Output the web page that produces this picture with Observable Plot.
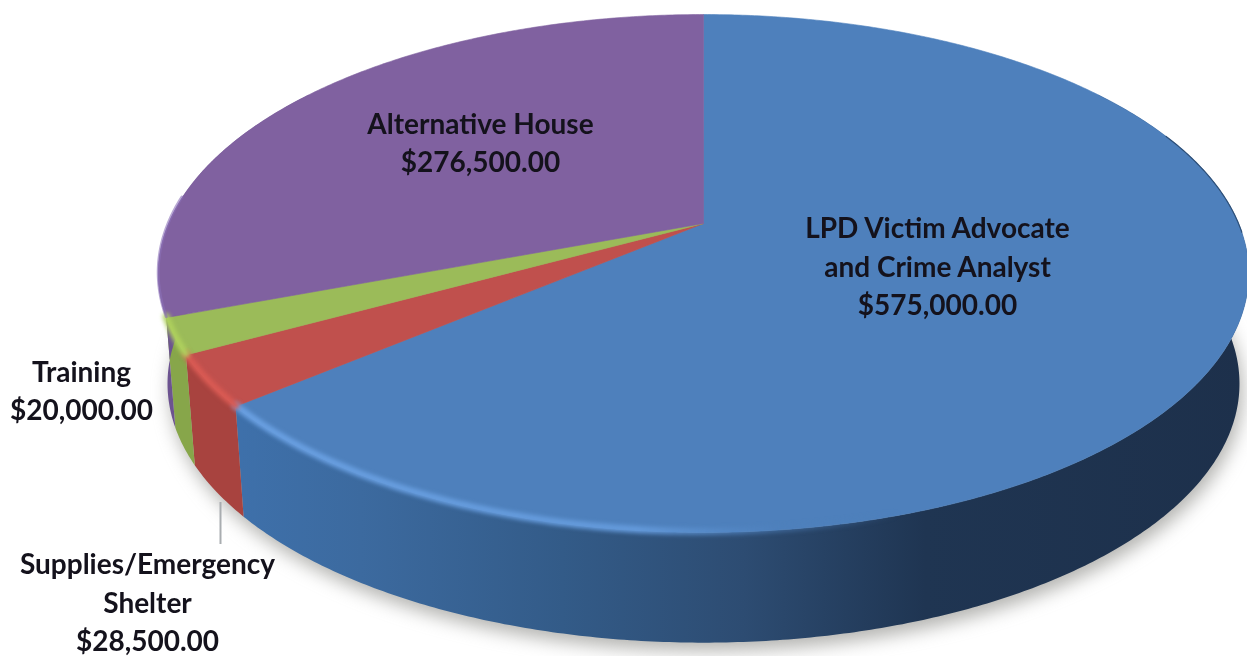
<!DOCTYPE html>
<html>
<head>
<meta charset="utf-8">
<script src="https://cdn.jsdelivr.net/npm/d3@7"></script>
<script src="https://cdn.jsdelivr.net/npm/@observablehq/plot@0.6"></script>
<style>
  html, body { margin: 0; padding: 0; background: #fff; }
  svg { display: block; }
</style>
</head>
<body>
<div id="chart"></div>
<script>
// ---- chart values, in drawing order clockwise from twelve o'clock
const categories = ["LPD Victim Advocate\nand Crime Analyst", "Supplies/Emergency\nShelter", "Training", "Alternative House"];
const amounts = [575000, 28500, 20000, 276500];

// ---- style per slice
const topColors = ["#4e80bc", "#c0504d", "#9bbb59", "#8061a0"];
const sideFills = ["url(#sideBlue)", "#a8433f", "#87a64a", "#6c5390"];
const rimStrokes = ["url(#rimBlue)", "#d95a53", "#aed05d", "#8a6fb8"];
const rimWidths = [7, 7, 7, 3];
const rimOpacity = [1, 1, 1, 0.6];
const rimBlur = ["blur(2px)", "blur(2px)", "blur(2px)", "none"];

// ---- perspective of the disc (rim radius is the unit of both scales)
const unit = 535;
const tilt = 0.466;
const perspective = 0.193;
const depth = 0.206;
const bottomShrink = 0.983;
const px = (p) => (p - 703) / unit;
const py = (p) => (223 - p) / unit;

const project = (deg, lower = false) => {
  const a = (deg * Math.PI) / 180;
  const w = 1 + perspective * Math.cos(a);
  const x = Math.sin(a) / w;
  const y = (tilt * Math.cos(a)) / w;
  return lower ? {x: x * bottomShrink, y: y - depth} : {x, y};
};
const arc = (from, to, lower = false) =>
  d3.range(0, 1.0001, 1 / Math.max(2, Math.ceil(Math.abs(to - from) * 2)))
    .map((t) => project(from + (to - from) * t, lower));

const total = d3.sum(amounts);
const ends = Array.from(d3.cumsum(amounts), (v) => (v / total) * 360);
const starts = ends.map((_, i) => (i ? ends[i - 1] : 0));

const apex = {x: 0, y: 0};
const topFaces = starts.map((s, i) => [apex, ...arc(s, ends[i]), apex]);
// only the part of each wall turned toward the viewer
const wallFrom = [55, starts[1], starts[2], starts[3]];
const wallTo = [ends[0], ends[1], ends[2], 305];
const walls = wallFrom.map((s, i) => [...arc(s, wallTo[i]), ...arc(wallTo[i], s, true)]);
const rims = [arc(75, ends[0]), arc(starts[1], ends[1]), arc(starts[2], ends[2]), arc(starts[3], 276)];

const fmt = d3.format("$,.2f");
const labelText = categories.map((c, i) => `${c}\n${fmt(amounts[i])}`);
const labelX = [937, 147, 81, 480].map(px);
const labelY = [264, 600, 388, 140].map(py);
const labels = labelText.map((text, i) => ({text, x: labelX[i], y: labelY[i]}));

const plot = Plot.plot({
  width: 1247,
  height: 656,
  margin: 0,
  x: {axis: null, domain: [px(0), px(1247)], range: [0, 1247]},
  y: {axis: null, domain: [py(656), py(0)], range: [656, 0]},
  style: {background: "#fff", filter: "blur(0.7px)"},
  marks: [
    // soft shadow under the disc
    Plot.line(arc(0, 360, true), {x: "x", y: "y", fill: "#8a8a86", fillOpacity: 0.65, stroke: "none",
      dx: 3, dy: 8, imageFilter: "blur(9px)"}),
    // walls, then the top faces over them
    ...walls.map((w, i) => Plot.line(w, {x: "x", y: "y", fill: sideFills[i], stroke: "none"})),
    ...topFaces.map((f, i) => Plot.line(f, {x: "x", y: "y", fill: topColors[i], stroke: topColors[i], strokeWidth: 0.6})),
    // thin dark edge on the far right of the rim
    Plot.line(arc(68, 92), {x: "x", y: "y", stroke: "#2f5078", strokeWidth: 1.2}),
    // bevel along the top rim
    ...rims.map((r, i) => Plot.line(r, {x: "x", y: "y", stroke: rimStrokes[i], strokeWidth: rimWidths[i],
      strokeOpacity: rimOpacity[i], dy: -1, imageFilter: rimBlur[i]})),
    // leader of the supplies label
    Plot.ruleX([px(220)], {y1: py(502), y2: py(544), stroke: "#a9adb0", strokeWidth: 2}),
    Plot.text(labels, {x: "x", y: "y", text: "text", fontFamily: "Lato, 'Open Sans', sans-serif",
      fontWeight: 700, fontSize: 28, lineHeight: 1.37, fill: "#14121c", textAnchor: "middle"})
  ]
});
d3.select(plot).insert("defs", ":first-child").html(`
  <linearGradient id="sideBlue" gradientUnits="userSpaceOnUse" x1="240" y1="0" x2="1247" y2="0">
    <stop offset="0" stop-color="#3e70aa"/>
    <stop offset="0.12" stop-color="#3c6a9f"/>
    <stop offset="0.32" stop-color="#335b88"/>
    <stop offset="0.5" stop-color="#2d4c72"/>
    <stop offset="0.68" stop-color="#1f3552"/>
    <stop offset="1" stop-color="#1d304b"/>
  </linearGradient>
  <linearGradient id="rimBlue" gradientUnits="userSpaceOnUse" x1="240" y1="0" x2="900" y2="0">
    <stop offset="0" stop-color="#6aa0e2"/>
    <stop offset="0.6" stop-color="#649adb"/>
    <stop offset="0.82" stop-color="#4e80bc" stop-opacity="0.5"/>
    <stop offset="1" stop-color="#4e80bc" stop-opacity="0"/>
  </linearGradient>`);
document.getElementById("chart").append(plot);
</script>
</body>
</html>
